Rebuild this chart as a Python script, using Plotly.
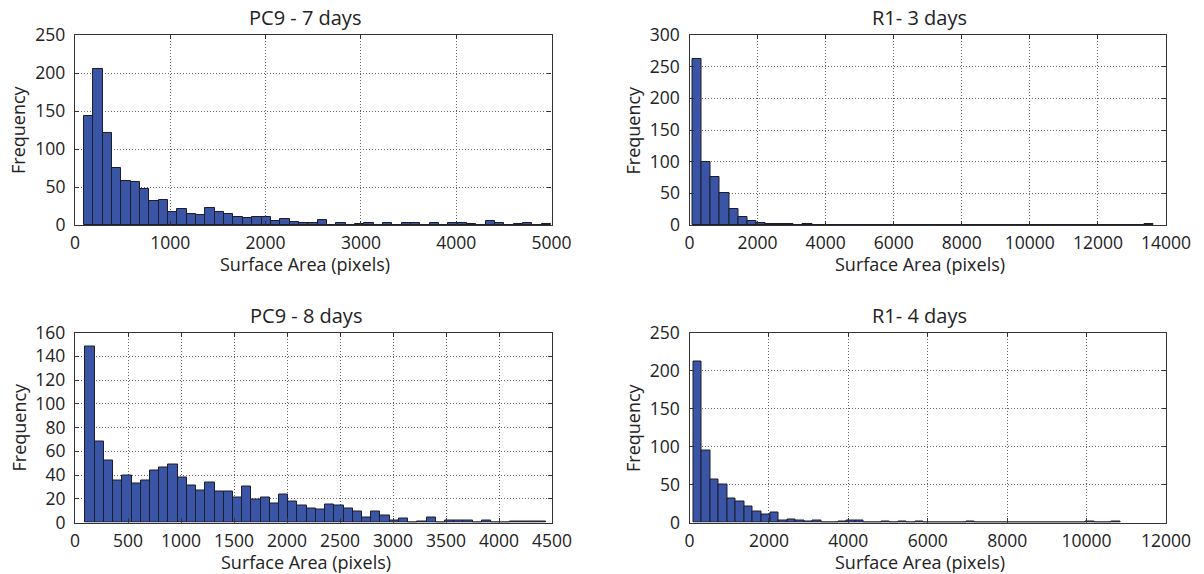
import plotly.graph_objects as go

# Histogram counts per bin (50 equal-width bins per sample)
pc9_7_start, pc9_7_width = 95, 98
pc9_7_counts = [143, 205, 121, 75, 58, 57, 48, 32, 33, 17,
                21, 14, 13, 22, 17, 14, 10, 9, 10, 10,
                5, 8, 4, 2, 3, 6, 0, 2, 0, 1,
                2, 0, 3, 0, 2, 3, 0, 2, 0, 2,
                2, 1, 0, 5, 3, 0, 1, 2, 0, 1]

r1_3_start, r1_3_width = 76, 271.2
r1_3_counts = [262, 100, 76, 50, 25, 13, 6, 3, 2, 1,
               1, 0, 1, 0, 0, 0, 0, 0, 0, 0,
               0, 0, 0, 0, 0, 0, 0, 0, 0, 0,
               0, 0, 0, 0, 0, 0, 0, 0, 0, 0,
               0, 0, 0, 0, 0, 0, 0, 0, 0, 1]

pc9_8_start, pc9_8_width = 98, 87
pc9_8_counts = [148, 68, 52, 35, 40, 33, 35, 44, 46, 49,
                38, 31, 27, 34, 26, 26, 21, 30, 19, 21,
                16, 24, 18, 14, 12, 11, 15, 14, 12, 9,
                4, 9, 6, 2, 3, 0, 1, 4, 0, 2,
                2, 2, 0, 2, 0, 0, 1, 1, 1, 1]

r1_4_start, r1_4_width = 93, 215
r1_4_counts = [212, 95, 56, 50, 31, 28, 21, 14, 11, 13,
               2, 4, 3, 1, 3, 0, 0, 1, 2, 2,
               0, 0, 1, 0, 1, 0, 1, 0, 0, 0,
               0, 0, 1, 0, 0, 0, 0, 0, 0, 0,
               0, 0, 0, 0, 0, 0, 1, 0, 0, 1]

titles = ["PC9 - 7 days", "R1- 3 days", "PC9 - 8 days", "R1- 4 days"]
x_ranges = [(0, 5000), (0, 14000), (0, 4500), (0, 12000)]
x_dticks = [1000, 2000, 500, 2000]
y_ranges = [(0, 250), (0, 300), (0, 160), (0, 250)]
y_dticks = [50, 50, 20, 50]

panels = [
    (pc9_7_start, pc9_7_width, pc9_7_counts),
    (r1_3_start, r1_3_width, r1_3_counts),
    (pc9_8_start, pc9_8_width, pc9_8_counts),
    (r1_4_start, r1_4_width, r1_4_counts),
]

W, H = 1204, 574
# plot boxes in pixels: (left, right, top, bottom)
boxes = [(75, 551.5, 35, 225), (689.5, 1166, 35, 225),
         (75, 552, 332.5, 522.5), (689.5, 1166, 332.5, 522.5)]

FONT = "Open Sans"
TXT = "#222222"
BAR = "#3a55a6"
EDGE = "#1c1c2a"

fig = go.Figure()
for i, (start, width, counts) in enumerate(panels):
    centers = [start + width * (k + 0.5) for k in range(len(counts))]
    sfx = "" if i == 0 else str(i + 1)
    fig.add_trace(go.Bar(
        x=centers, y=counts, width=width,
        marker=dict(color=BAR, line=dict(color=EDGE, width=1)),
        xaxis="x" + sfx, yaxis="y" + sfx, showlegend=False,
    ))
    l, r, t, b = boxes[i]
    axis_common = dict(
        showline=True, linecolor="#333333", linewidth=1.2, mirror="allticks",
        ticks="inside", ticklen=4, tickcolor="#333333",
        showgrid=True, gridcolor="#666666", griddash="1px,2px", gridwidth=1,
        zeroline=False, tickfont=dict(family=FONT, size=17.5, color=TXT),
        automargin=False, tickformat="d",
    )
    fig.update_layout({
        "xaxis" + sfx: dict(axis_common, domain=[l / W, r / W],
                            range=list(x_ranges[i]), dtick=x_dticks[i], tick0=0,
                            anchor="y" + sfx, ticklabelstandoff=2),
        "yaxis" + sfx: dict(axis_common, domain=[1 - b / H, 1 - t / H],
                            range=list(y_ranges[i]), dtick=y_dticks[i], tick0=0,
                            anchor="x" + sfx, ticklabelstandoff=5),
    })
    cx = (l + r) / 2 - 8
    fig.add_annotation(text=titles[i], x=cx / W, y=1 - (t - 17) / H,
                       xref="paper", yref="paper", showarrow=False,
                       xanchor="center", yanchor="middle",
                       font=dict(family=FONT, size=20, color=TXT))
    fig.add_annotation(text="Surface Area (pixels)", x=cx / W, y=1 - (b + 39) / H,
                       xref="paper", yref="paper", showarrow=False,
                       xanchor="center", yanchor="middle",
                       font=dict(family=FONT, size=18, color=TXT))
    fig.add_annotation(text="Frequency", x=(l - 57) / W, y=1 - ((t + b) / 2) / H,
                       xref="paper", yref="paper", showarrow=False, textangle=-90,
                       xanchor="center", yanchor="middle",
                       font=dict(family=FONT, size=18, color=TXT))

fig.update_layout(
    width=W, height=H, margin=dict(l=0, r=0, t=0, b=0, autoexpand=False),
    paper_bgcolor="white", plot_bgcolor="white", bargap=0,
)
fig.write_html("out.html")
